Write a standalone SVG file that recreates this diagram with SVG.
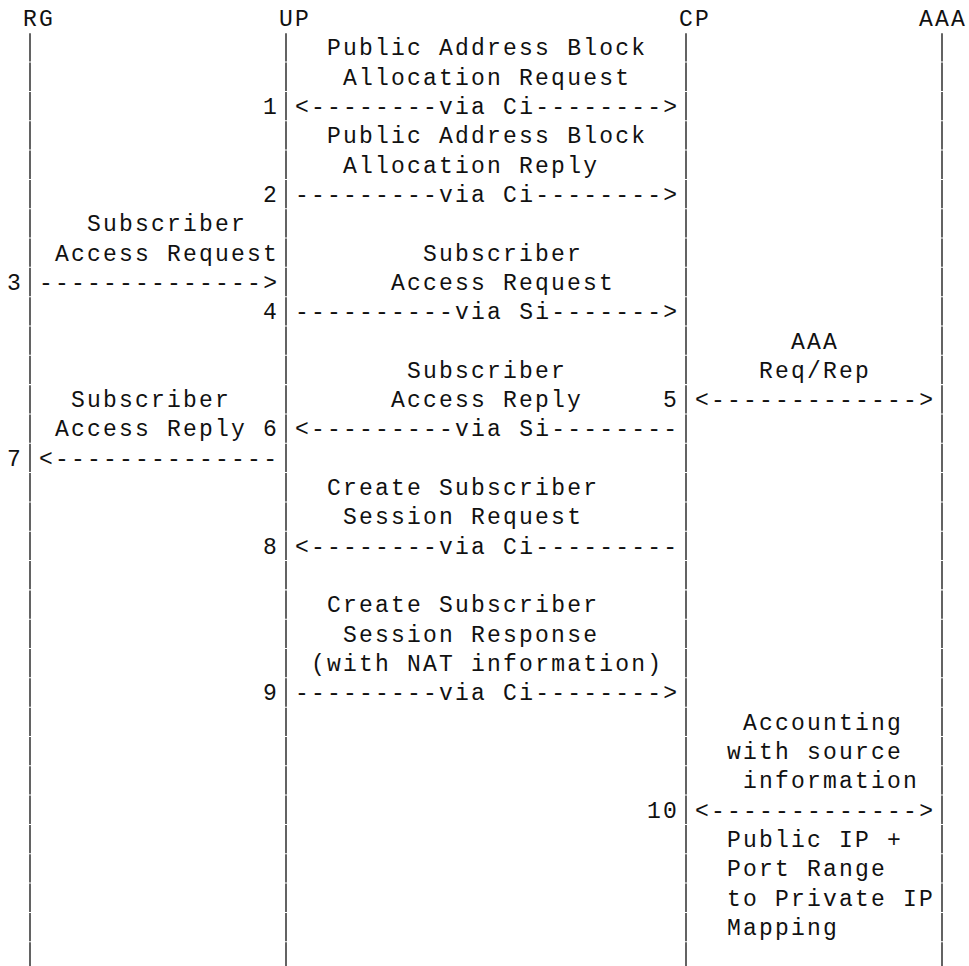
<svg xmlns="http://www.w3.org/2000/svg" width="969" height="966" viewBox="0 0 969 966">
<style>
  text { font-family: "Liberation Mono", "DejaVu Sans Mono", monospace; font-size: 23px; letter-spacing: 2.2px; fill: #111; }
  .life { stroke: #222; stroke-width: 1.4; stroke-dasharray: 28.3 1.02; fill: none; }
</style>
<rect width="969" height="966" fill="#fff"/>
<g id="node-RG">
  <text x="23.1" y="26">RG</text>
  <line class="life" x1="30" y1="33.3" x2="30" y2="966"/>
</g>
<g id="node-UP">
  <text x="279.1" y="26">UP</text>
  <line class="life" x1="286" y1="33.3" x2="286" y2="966"/>
</g>
<g id="node-CP">
  <text x="679.1" y="26">CP</text>
  <line class="life" x1="686" y1="33.3" x2="686" y2="966"/>
</g>
<g id="node-AAA">
  <text x="919.1" y="26">AAA</text>
  <line class="life" x1="942" y1="33.3" x2="942" y2="966"/>
</g>
<g id="connectors">
  <g id="msg1">
    <text x="327.1" y="55.32">Public Address Block</text>
    <text x="343.1" y="84.64">Allocation Request</text>
    <text x="263.1" y="113.96">1</text>
    <text x="295.1" y="113.96">&lt;--------via Ci--------&gt;</text>
  </g>
  <g id="msg2">
    <text x="327.1" y="143.28">Public Address Block</text>
    <text x="343.1" y="172.6">Allocation Reply</text>
    <text x="263.1" y="201.92">2</text>
    <text x="295.1" y="201.92">---------via Ci--------&gt;</text>
  </g>
  <g id="msg3">
    <text x="87.1" y="231.24">Subscriber</text>
    <text x="55.1" y="260.56">Access Request</text>
    <text x="7.1" y="289.88">3</text>
    <text x="39.1" y="289.88">--------------&gt;</text>
  </g>
  <g id="msg4">
    <text x="423.1" y="260.56">Subscriber</text>
    <text x="391.1" y="289.88">Access Request</text>
    <text x="263.1" y="319.2">4</text>
    <text x="295.1" y="319.2">----------via Si-------&gt;</text>
  </g>
  <g id="msg5">
    <text x="791.1" y="348.52">AAA</text>
    <text x="759.1" y="377.84">Req/Rep</text>
    <text x="663.1" y="407.16">5</text>
    <text x="695.1" y="407.16">&lt;-------------&gt;</text>
  </g>
  <g id="msg6">
    <text x="407.1" y="377.84">Subscriber</text>
    <text x="391.1" y="407.16">Access Reply</text>
    <text x="263.1" y="436.48">6</text>
    <text x="295.1" y="436.48">&lt;---------via Si--------</text>
  </g>
  <g id="msg7">
    <text x="71.1" y="407.16">Subscriber</text>
    <text x="55.1" y="436.48">Access Reply</text>
    <text x="7.1" y="465.8">7</text>
    <text x="39.1" y="465.8">&lt;--------------</text>
  </g>
  <g id="msg8">
    <text x="327.1" y="495.12">Create Subscriber</text>
    <text x="343.1" y="524.44">Session Request</text>
    <text x="263.1" y="553.76">8</text>
    <text x="295.1" y="553.76">&lt;--------via Ci---------</text>
  </g>
  <g id="msg9">
    <text x="327.1" y="612.4">Create Subscriber</text>
    <text x="343.1" y="641.72">Session Response</text>
    <text x="311.1" y="671.04">(with NAT information)</text>
    <text x="263.1" y="700.36">9</text>
    <text x="295.1" y="700.36">---------via Ci--------&gt;</text>
  </g>
  <g id="msg10">
    <text x="743.1" y="729.68">Accounting</text>
    <text x="727.1" y="759">with source</text>
    <text x="743.1" y="788.32">information</text>
    <text x="647.1" y="817.64">10</text>
    <text x="695.1" y="817.64">&lt;-------------&gt;</text>
    <text x="727.1" y="846.96">Public IP +</text>
    <text x="727.1" y="876.28">Port Range</text>
    <text x="727.1" y="905.6">to Private IP</text>
    <text x="727.1" y="934.92">Mapping</text>
  </g>
</g>
</svg>
